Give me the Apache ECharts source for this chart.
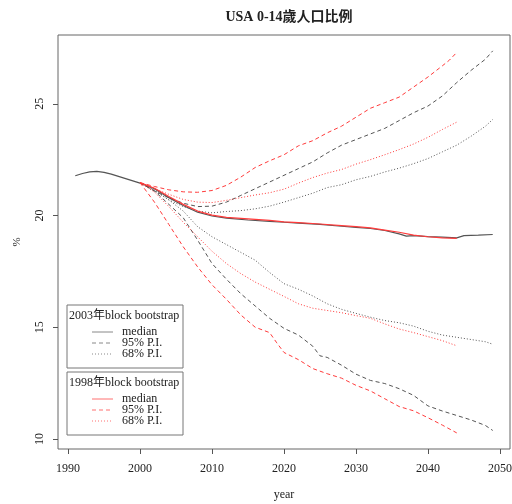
<!DOCTYPE html>
<html>
<head>
<meta charset="utf-8">
<script src="https://cdn.jsdelivr.net/npm/echarts@6/dist/echarts.min.js"></script>
<style>
  html, body { margin: 0; padding: 0; background: #fff; }
  #chart { width: 512px; height: 504px; }
</style>
</head>
<body>
<div id="chart"></div>
<script>
// Share of population aged 0-14 (%), projections by block bootstrap.
const xTicks = [1990, 2000, 2010, 2020, 2030, 2040, 2050];
const yTicks = [10, 15, 20, 25];

// 2003 block bootstrap (black), [year, %]
const median2003 = [[1991,21.78],[1992,21.88],[1993,21.95],[1994,21.98],[1995,21.93],[1996,21.85],[1997,21.75],[1998,21.65],[1999,21.55],[2000,21.45],[2002,21.2],[2004,20.8],[2006,20.45],[2008,20.15],[2010,19.98],[2012,19.88],[2015,19.8],[2018,19.74],[2020,19.7],[2022,19.66],[2025,19.6],[2028,19.52],[2030,19.47],[2032,19.42],[2034,19.33],[2036,19.18],[2037,19.08],[2038,19.1],[2040,19.06],[2042,19.03],[2044,19.0],[2045,19.1],[2047,19.12],[2049,19.15]];
const upper95_2003 = [[2000,21.47],[2002,21.1],[2004,20.8],[2006,20.55],[2008,20.4],[2010,20.42],[2012,20.6],[2014,20.9],[2016,21.2],[2018,21.5],[2020,21.8],[2022,22.1],[2024,22.4],[2026,22.8],[2028,23.15],[2030,23.4],[2032,23.65],[2034,23.9],[2036,24.25],[2038,24.6],[2040,24.9],[2042,25.35],[2044,25.95],[2046,26.5],[2048,27.0],[2049,27.37]];
const lower95_2003 = [[2000,21.47],[2002,21.1],[2004,20.5],[2006,19.9],[2008,18.9],[2010,17.85],[2012,17.15],[2014,16.5],[2016,15.95],[2018,15.4],[2020,14.95],[2022,14.65],[2024,14.15],[2025,13.72],[2026,13.65],[2028,13.3],[2030,12.9],[2032,12.62],[2034,12.48],[2036,12.25],[2038,11.95],[2040,11.48],[2042,11.25],[2044,11.05],[2046,10.85],[2048,10.6],[2049,10.38]];
const upper68_2003 = [[2000,21.47],[2002,21.1],[2004,20.7],[2006,20.4],[2008,20.2],[2010,20.12],[2012,20.18],[2014,20.22],[2016,20.3],[2018,20.42],[2020,20.6],[2022,20.8],[2024,21.0],[2026,21.25],[2028,21.38],[2030,21.6],[2032,21.75],[2034,21.95],[2036,22.12],[2038,22.32],[2040,22.55],[2042,22.85],[2044,23.15],[2046,23.55],[2048,24.0],[2049,24.3]];
const lower68_2003 = [[2000,21.47],[2002,21.15],[2004,20.7],[2006,20.2],[2008,19.5],[2010,19.05],[2012,18.7],[2014,18.35],[2016,18.0],[2018,17.45],[2020,16.95],[2022,16.7],[2024,16.4],[2026,16.05],[2028,15.8],[2030,15.62],[2032,15.45],[2034,15.3],[2036,15.2],[2038,15.05],[2040,14.82],[2042,14.65],[2044,14.55],[2046,14.45],[2048,14.35],[2049,14.24]];

// 1998 block bootstrap (red), [year, %]
const median1998 = [[2000,21.47],[2002,21.22],[2004,20.85],[2006,20.5],[2008,20.2],[2010,20.02],[2012,19.92],[2015,19.85],[2018,19.78],[2020,19.72],[2022,19.68],[2025,19.62],[2028,19.55],[2030,19.5],[2032,19.45],[2034,19.35],[2036,19.25],[2038,19.12],[2040,19.05],[2042,19.0],[2044,18.98]];
const upper95_1998 = [[2000,21.47],[2002,21.3],[2004,21.15],[2006,21.06],[2008,21.04],[2010,21.12],[2012,21.35],[2014,21.72],[2016,22.15],[2018,22.45],[2020,22.72],[2022,23.12],[2024,23.35],[2026,23.7],[2028,24.0],[2030,24.4],[2032,24.8],[2034,25.05],[2036,25.3],[2038,25.75],[2040,26.2],[2042,26.7],[2043,26.96],[2044,27.3]];
const lower95_1998 = [[2000,21.47],[2002,20.6],[2004,19.6],[2006,18.6],[2008,17.7],[2010,16.9],[2012,16.25],[2014,15.55],[2016,15.0],[2018,14.76],[2019,14.3],[2020,13.87],[2022,13.55],[2024,13.15],[2026,12.92],[2028,12.72],[2030,12.4],[2032,12.15],[2034,11.8],[2036,11.45],[2038,11.26],[2040,10.95],[2042,10.62],[2044,10.27]];
const upper68_1998 = [[2000,21.47],[2002,21.2],[2004,20.95],[2006,20.72],[2008,20.6],[2010,20.58],[2012,20.68],[2014,20.8],[2016,20.92],[2018,21.02],[2020,21.18],[2022,21.45],[2024,21.7],[2026,21.9],[2028,22.06],[2030,22.3],[2032,22.5],[2034,22.72],[2036,22.95],[2038,23.2],[2040,23.5],[2042,23.85],[2044,24.18]];
const lower68_1998 = [[2000,21.47],[2002,21.05],[2004,20.4],[2006,19.7],[2008,19.05],[2010,18.4],[2012,17.85],[2014,17.4],[2016,17.02],[2018,16.7],[2020,16.38],[2022,16.05],[2024,15.85],[2026,15.75],[2028,15.65],[2030,15.52],[2032,15.4],[2034,15.15],[2036,14.92],[2038,14.76],[2040,14.58],[2042,14.4],[2044,14.17]];

const BLACK = '#555555';
const RED = '#ff3b3b';
const DASH = [4, 3];
const DOT = [1, 2];
const SERIF = '"Liberation Serif", "Noto Sans CJK TC", serif';

function line(name, data, color, type, width) {
  return {
    name, type: 'line', data, showSymbol: false, silent: true,
    lineStyle: { color, type, width: width || 1 },
    z: 2
  };
}

const series = [
  line('2003 median', median2003, BLACK, 'solid', 1.2),
  line('2003 95% upper', upper95_2003, BLACK, DASH),
  line('2003 95% lower', lower95_2003, BLACK, DASH),
  line('2003 68% upper', upper68_2003, BLACK, DOT),
  line('2003 68% lower', lower68_2003, BLACK, DOT),
  line('1998 median', median1998, RED, 'solid', 1.2),
  line('1998 95% upper', upper95_1998, RED, DASH),
  line('1998 95% lower', lower95_1998, RED, DASH),
  line('1998 68% upper', upper68_1998, RED, DOT),
  line('1998 68% lower', lower68_1998, RED, DOT)
];

// Boxed legends, one per bootstrap run
function legendBox(top, title, color) {
  const rows = ['median', '95% P.I.', '68% P.I.'];
  const styles = ['solid', DASH, DOT];
  const rowY = [top + 27, top + 38, top + 49];
  const els = [
    { type: 'rect', shape: { x: 67, y: top, width: 116, height: 63 },
      style: { fill: '#fff', stroke: '#777', lineWidth: 1 }, z: 10 },
    { type: 'text', x: 69, y: top + 11,
      style: { text: title, font: '12px ' + SERIF, fill: '#222', textVerticalAlign: 'middle' }, z: 11 }
  ];
  rows.forEach((r, i) => {
    els.push({ type: 'line', shape: { x1: 92, y1: rowY[i], x2: 113, y2: rowY[i] },
      style: { stroke: color, lineWidth: 1, lineDash: styles[i] === 'solid' ? null : styles[i] }, z: 11 });
    els.push({ type: 'text', x: 122, y: rowY[i],
      style: { text: r, font: '12px ' + SERIF, fill: '#222', textVerticalAlign: 'middle' }, z: 11 });
  });
  return els;
}

const chart = echarts.init(document.getElementById('chart'), null, { renderer: 'canvas' });
chart.setOption({
  animation: false,
  backgroundColor: '#fff',
  title: {
    text: 'USA 0-14歲人口比例',
    left: 284, top: 5, textAlign: 'center',
    textStyle: { fontFamily: SERIF, fontSize: 14, fontWeight: 'bold', color: '#222' }
  },
  grid: {
    left: 58, right: 2, top: 35, bottom: 55,
    outerBoundsMode: 'none', containLabel: false,
    show: true, borderColor: '#666', borderWidth: 1, backgroundColor: 'transparent'
  },
  xAxis: {
    type: 'value', min: 1988.6, max: 2051.4,
    name: 'year', nameLocation: 'middle', nameGap: 40,
    nameTextStyle: { fontFamily: SERIF, fontSize: 12, color: '#222' },
    axisLine: { show: false },
    axisTick: { show: true, inside: false, length: 5, customValues: xTicks, lineStyle: { color: '#555' } },
    axisLabel: { customValues: xTicks, margin: 14, fontFamily: SERIF, fontSize: 12, color: '#222',
      formatter: v => String(v) },
    splitLine: { show: false }
  },
  yAxis: {
    type: 'value', min: 9.55, max: 28.08,
    name: '%', nameLocation: 'middle', nameGap: 35, nameRotate: 90,
    nameTextStyle: { fontFamily: SERIF, fontSize: 11, color: '#222' },
    axisLine: { show: false },
    axisTick: { show: true, inside: false, length: 5, customValues: yTicks, lineStyle: { color: '#555' } },
    axisLabel: { customValues: yTicks, rotate: 90, margin: 12, fontFamily: SERIF, fontSize: 12, color: '#222',
      formatter: v => String(v) },
    splitLine: { show: false }
  },
  series,
  graphic: [
    ...legendBox(305, '2003年block bootstrap', '#888'),
    ...legendBox(372, '1998年block bootstrap', '#ff7070')
  ]
});
</script>
</body>
</html>
